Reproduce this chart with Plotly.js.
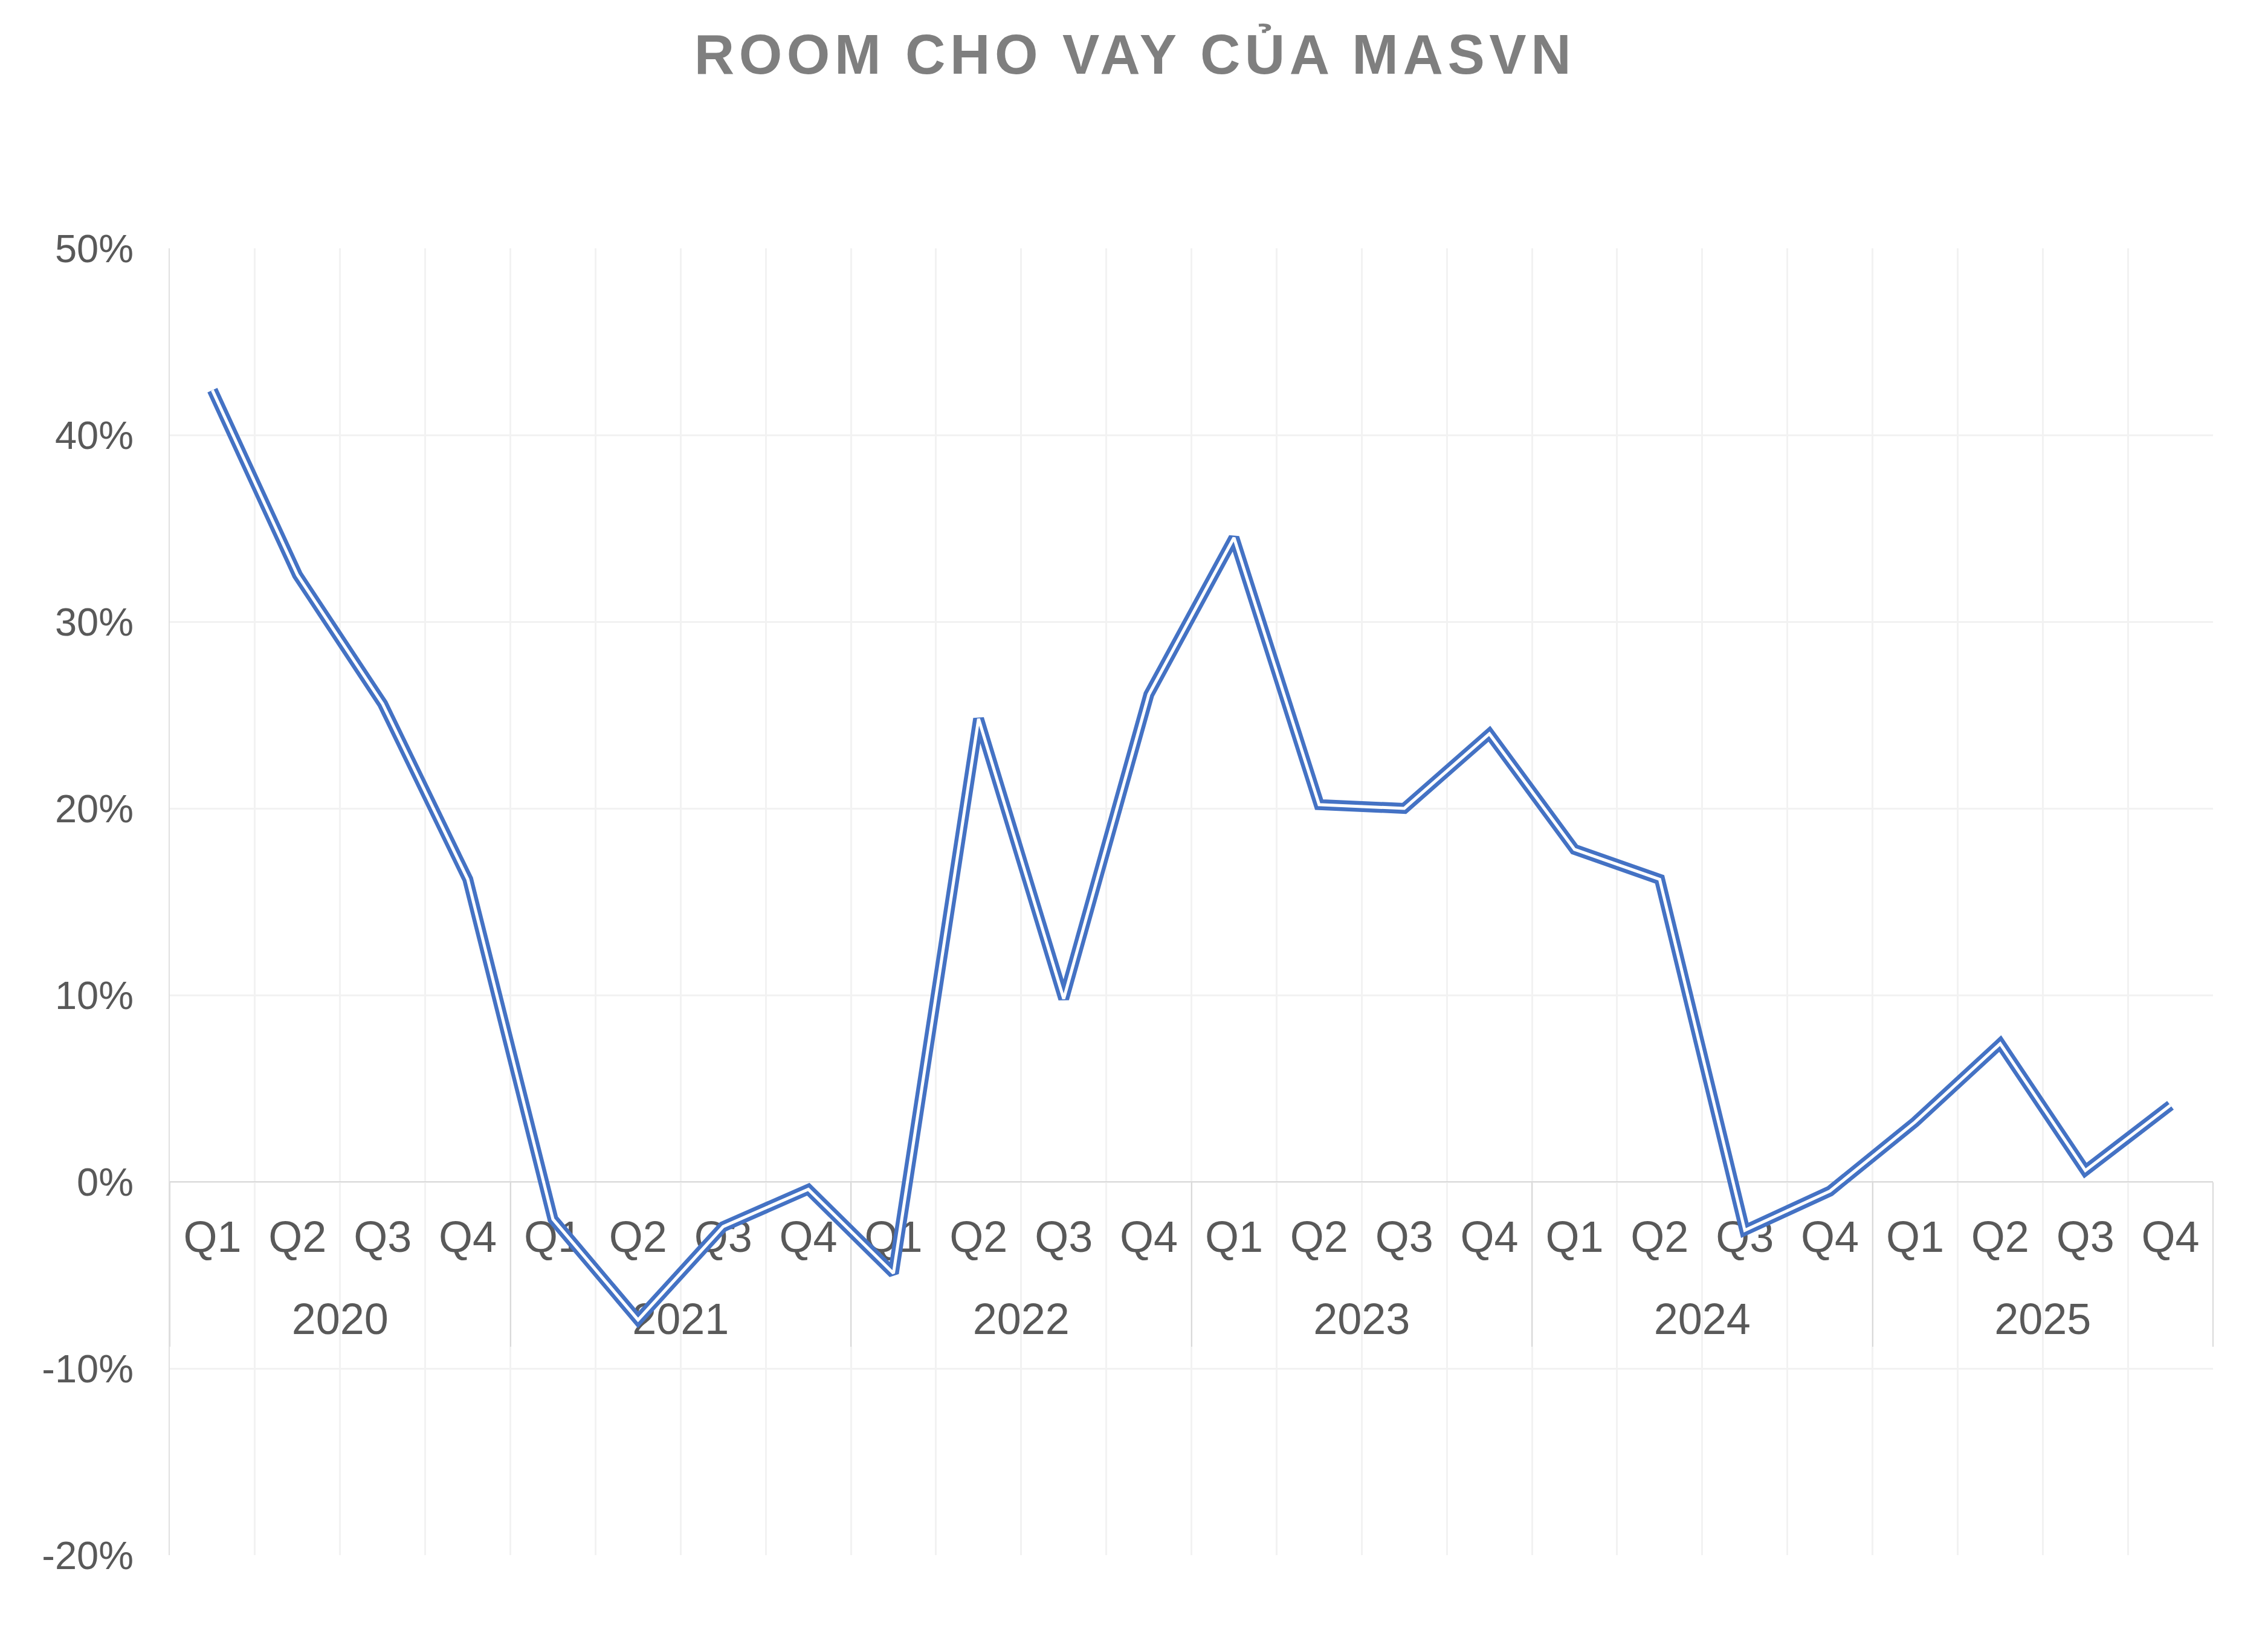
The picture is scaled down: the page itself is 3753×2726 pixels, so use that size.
<!DOCTYPE html>
<html>
<head>
<meta charset="utf-8">
<script src="https://cdn.plot.ly/plotly-3.0.1.min.js"></script>
<style>
  html, body { margin: 0; padding: 0; background: #fff; }
  #chart { width: 3753px; height: 2726px; }
</style>
</head>
<body>
<div id="chart"></div>
<script>
// ---------- DATA ----------
const years = ["2020", "2020", "2020", "2020", "2021", "2021", "2021", "2021",
               "2022", "2022", "2022", "2022", "2023", "2023", "2023", "2023",
               "2024", "2024", "2024", "2024", "2025", "2025", "2025", "2025"];
const quarters = ["Q1", "Q2", "Q3", "Q4", "Q1", "Q2", "Q3", "Q4",
                  "Q1", "Q2", "Q3", "Q4", "Q1", "Q2", "Q3", "Q4",
                  "Q1", "Q2", "Q3", "Q4", "Q1", "Q2", "Q3", "Q4"];
// room cho vay, %
const roomPct = [42.4, 32.5, 25.6, 16.2, -2.0, -7.4, -2.4, -0.4,
                 -4.9, 24.8, 9.8, 26.1, 34.5, 20.2, 20.0, 24.0,
                 17.8, 16.2, -2.6, -0.5, 3.2, 7.4, 0.6, 4.1];
const yTicks = [-20, -10, 0, 10, 20, 30, 40, 50];

const BLUE = "#4472C4";
const FONT = "Liberation Sans, Arial, sans-serif";

// ---------- CATEGORY HELPERS ----------
const idx = quarters.map((q, i) => i);
const catBounds = idx.map(i => i - 0.5).concat([quarters.length - 0.5]);

const yearNames = [...new Set(years)];
const yearCenters = yearNames.map(y => {
  const ii = idx.filter(i => years[i] === y);
  return (ii[0] + ii[ii.length - 1]) / 2;
});
const yearBounds = idx.filter(i => i === 0 || years[i] !== years[i - 1])
  .map(i => i - 0.5).concat([quarters.length - 0.5]);

const yMin = yTicks[0], yMax = yTicks[yTicks.length - 1];
const xRange = [-0.5, quarters.length - 0.5];
const axisPos = (0 - yMin) / (yMax - yMin); // category axis sits on 0%

// ---------- TRACES ----------
// Excel "double" line: a wide blue stroke with a thin white core on top
const outer = {
  x: idx, y: roomPct,
  type: "scatter", mode: "lines",
  line: { color: BLUE, width: 18 },
  hoverinfo: "skip", showlegend: false
};
const inner = {
  x: idx, y: roomPct,
  type: "scatter", mode: "lines",
  line: { color: "#ffffff", width: 5 },
  hoverinfo: "skip", showlegend: false
};
// carrier for the year axis (not visible)
const yearCarrier = {
  x: idx, y: roomPct, xaxis: "x2",
  type: "scatter", mode: "lines",
  line: { color: "rgba(0,0,0,0)", width: 0 },
  hoverinfo: "skip", showlegend: false
};

// ---------- LAYOUT ----------
const tickFontX = { family: FONT, size: 72, color: "#595959" };

const layout = {
  width: 3753,
  height: 2726,
  paper_bgcolor: "#ffffff",
  plot_bgcolor: "#ffffff",
  margin: { l: 281, r: 91, t: 411, b: 152 },
  title: {
    text: "ROOM CHO VAY CỦA MASVN",
    font: { family: FONT, size: 92, color: "#7f7f7f", weight: "bold" },
    x: 0.5004, xref: "container", xanchor: "center",
    y: 0.967, yref: "container", yanchor: "middle"
  },
  // quarters
  xaxis: {
    range: xRange,
    anchor: "free",
    position: axisPos,
    layer: "below traces",
    tickmode: "array",
    tickvals: idx,
    ticktext: quarters,
    ticks: "",
    ticklabelstandoff: 29,
    tickfont: tickFontX,
    showgrid: false,
    zeroline: false,
    showline: true,
    linecolor: "#d9d9d9",
    linewidth: 2,
    minor: {
      tickmode: "array",
      tickvals: catBounds,
      ticks: "",
      showgrid: true,
      gridcolor: "#f2f2f2",
      gridwidth: 3
    }
  },
  // years, with group dividers
  xaxis2: {
    range: xRange,
    overlaying: "x",
    anchor: "free",
    position: axisPos,
    side: "bottom",
    layer: "below traces",
    tickmode: "array",
    tickvals: yearCenters,
    ticktext: yearNames,
    ticks: "",
    ticklabelstandoff: 179,
    tickfont: tickFontX,
    showgrid: false,
    zeroline: false,
    showline: false,
    minor: {
      tickmode: "array",
      tickvals: yearBounds,
      ticks: "outside",
      ticklen: 272,
      tickwidth: 2,
      tickcolor: "#d9d9d9",
      showgrid: false
    }
  },
  yaxis: {
    range: [yMin, yMax],
    tickmode: "array",
    tickvals: yTicks,
    ticktext: yTicks.map(v => v + "%"),
    showgrid: true,
    gridcolor: "#f2f2f2",
    gridwidth: 3,
    zeroline: false,
    showline: true,
    linecolor: "#e0e0e0",
    linewidth: 2,
    ticks: "",
    ticklabelstandoff: 45,
    tickfont: { family: FONT, size: 65, color: "#595959" }
  }
};

Plotly.newPlot("chart", [yearCarrier, outer, inner], layout,
               { displayModeBar: false, staticPlot: true })
  .then(() => {
    // Excel title has wide letter spacing
    const t = document.querySelector(".gtitle");
    if (t) t.style.letterSpacing = "7.5px";
  });
</script>
</body>
</html>
